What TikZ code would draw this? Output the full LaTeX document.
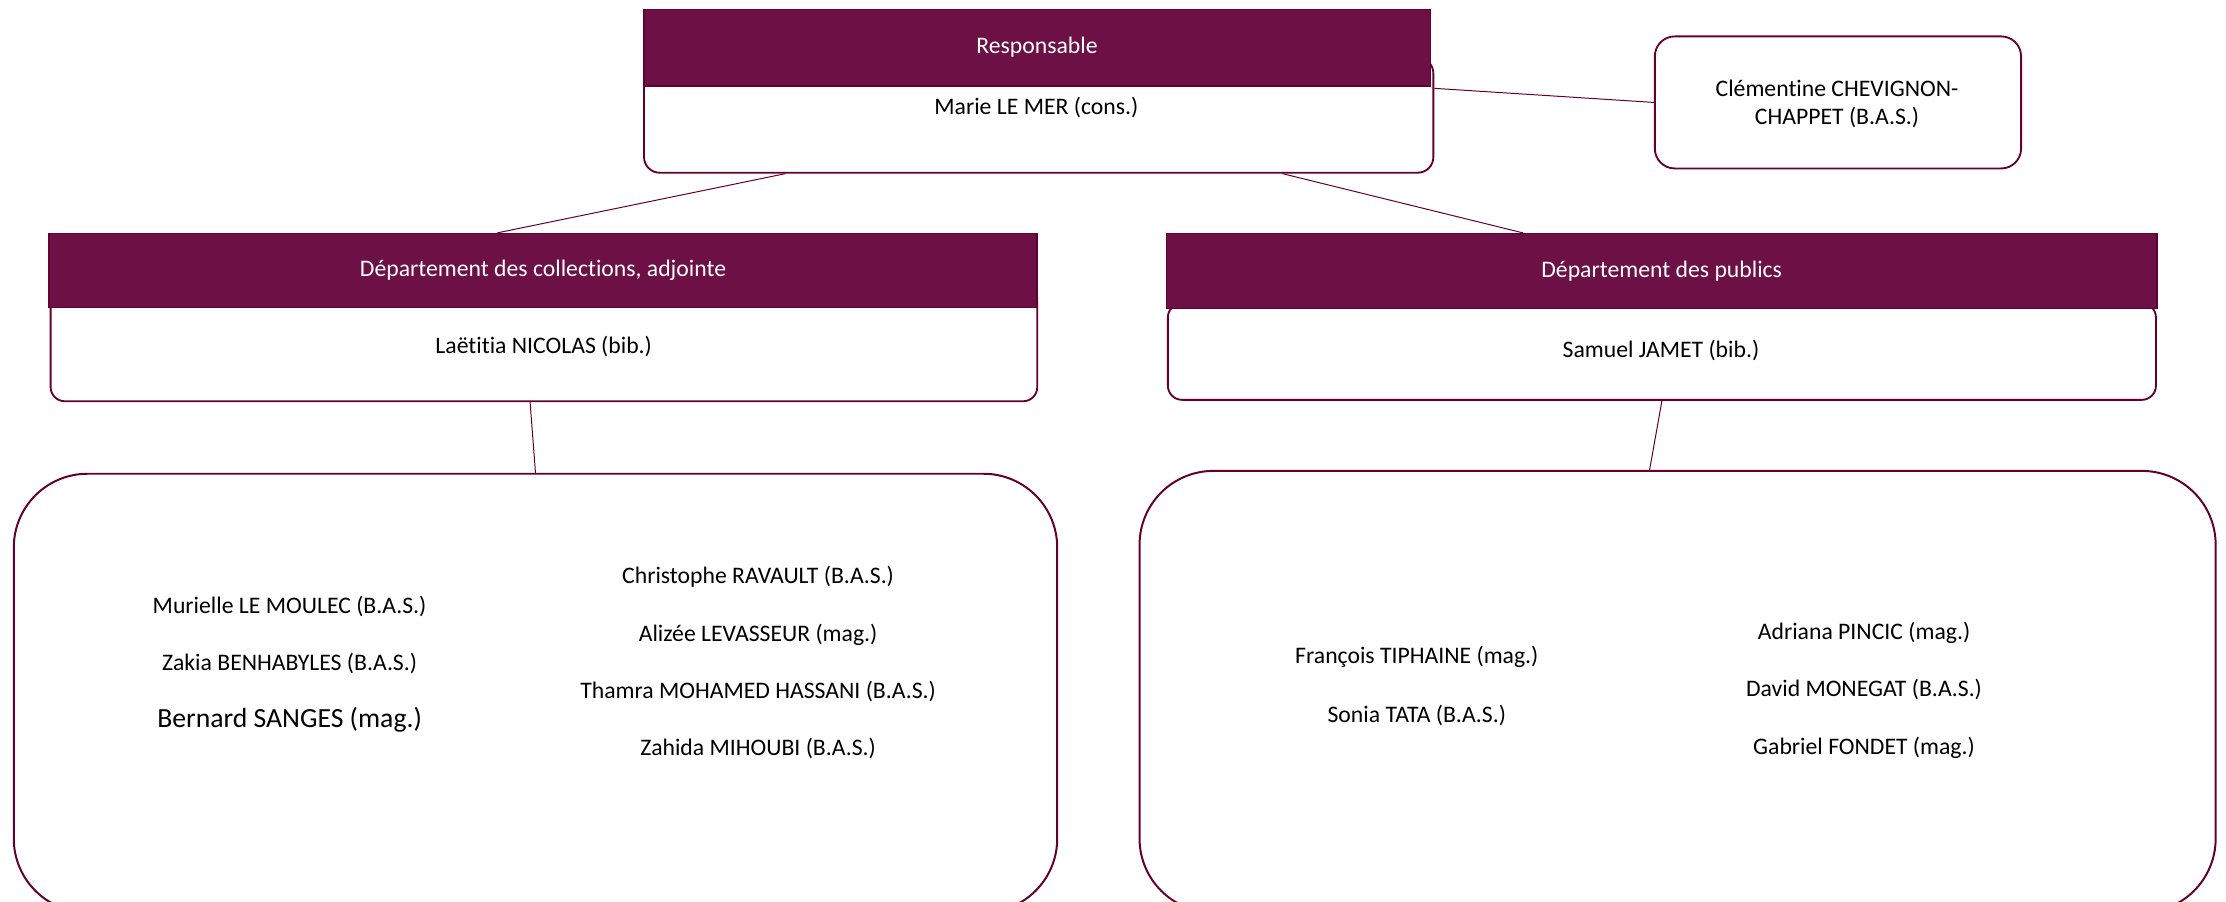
\documentclass[tikz,border=0pt]{standalone}
\usepackage{fontspec}
\setmainfont[RawFeature=-liga]{Carlito}
\usetikzlibrary{calc}
\definecolor{hdrc}{RGB}{108,16,69}
\definecolor{bordc}{RGB}{98,0,48}
\begin{document}
\begin{tikzpicture}[x=1pt,y=-1pt,
  every node/.style={font=\fontsize{16.7}{20}\selectfont},
  hdrbox/.style={draw=bordc, line width=1pt, fill=hdrc, text=white, inner sep=0pt, anchor=north west},
  bodybox/.style={draw=bordc, line width=1.3pt, fill=white, rounded corners=#1, inner sep=0pt, anchor=north west},
  bigbox/.style={draw=bordc, line width=1.4pt, fill=white, rounded corners=52pt, inner sep=0pt, anchor=north west},
  persontxt/.style={text=black, inner sep=1pt},
  link/.style={draw=bordc, line width=0.7pt}]
\useasboundingbox (0,0) rectangle (1568,635);
\clip (0,0) rectangle (1568,635);
% top
\node[bodybox=11pt, minimum width=556pt, minimum height=81pt] (topb) at (453,40) {};
\node[hdrbox, minimum width=554pt, minimum height=54pt] (toph) at (453,6) {Responsable};
\node[persontxt] (topt) at (730,76) {Marie LE MER (cons.)};
% side box
\node[bodybox=14pt, minimum width=258pt, minimum height=93pt] (cc) at (1165,25) {};
\node[persontxt, align=center] (cct) at (1294,73) {Clémentine CHEVIGNON-\\CHAPPET (B.A.S.)};
% departments
\node[bodybox=10pt, minimum width=695pt, minimum height=82pt] (lb) at (35,200) {};
\node[hdrbox, minimum width=696pt, minimum height=52pt] (lh) at (34,164) {Département des collections, adjointe};
\node[persontxt] (lt) at (383,244) {Laëtitia NICOLAS (bib.)};
\node[bodybox=10pt, minimum width=696pt, minimum height=68pt] (rb) at (822,213) {};
\node[hdrbox, minimum width=698pt, minimum height=53pt] (rh) at (821,164) {Département des publics};
\node[persontxt] (rt) at (1170,247) {Samuel JAMET (bib.)};
% big boxes
\node[bigbox, minimum width=735pt, minimum height=309pt] (lbig) at (9,333) {};
\node[bigbox, minimum width=758pt, minimum height=311pt] (rbig) at (802,331) {};
% connectors
\draw[link] ($(topb.east)!0.46!(topb.north east)$) -- (cc.west);
\draw[link] ($(topb.south west)!0.18!(topb.south east)$) -- ($(lh.north west)!0.454!(lh.north east)$);
\draw[link] ($(topb.south west)!0.808!(topb.south east)$) -- ($(rh.north west)!0.36!(rh.north east)$);
\draw[link] ($(lb.south west)!0.486!(lb.south east)$) -- (lbig.north);
\draw[link] (rb.south) -- ($(rbig.north west)!0.474!(rbig.north east)$);
% left names
\node[persontxt] (n1) at (204,427) {Murielle LE MOULEC (B.A.S.)};
\node[persontxt] (n2) at (204,467) {Zakia BENHABYLES (B.A.S.)};
\node[persontxt, font=\fontsize{19.5}{23}\selectfont] (n3) at (204,507) {Bernard SANGES (mag.)};
\node[persontxt] (n4) at (534,406) {Christophe RAVAULT (B.A.S.)};
\node[persontxt] (n5) at (534,447) {Alizée LEVASSEUR (mag.)};
\node[persontxt] (n6) at (534,487) {Thamra MOHAMED HASSANI (B.A.S.)};
\node[persontxt] (n7) at (534,527) {Zahida MIHOUBI (B.A.S.)};
% right names
\node[persontxt] (m1) at (998,463) {François TIPHAINE (mag.)};
\node[persontxt] (m2) at (998,504) {Sonia TATA (B.A.S.)};
\node[persontxt] (m3) at (1313,446) {Adriana PINCIC (mag.)};
\node[persontxt] (m4) at (1313,486) {David MONEGAT (B.A.S.)};
\node[persontxt] (m5) at (1313,527) {Gabriel FONDET (mag.)};
\end{tikzpicture}
\end{document}
